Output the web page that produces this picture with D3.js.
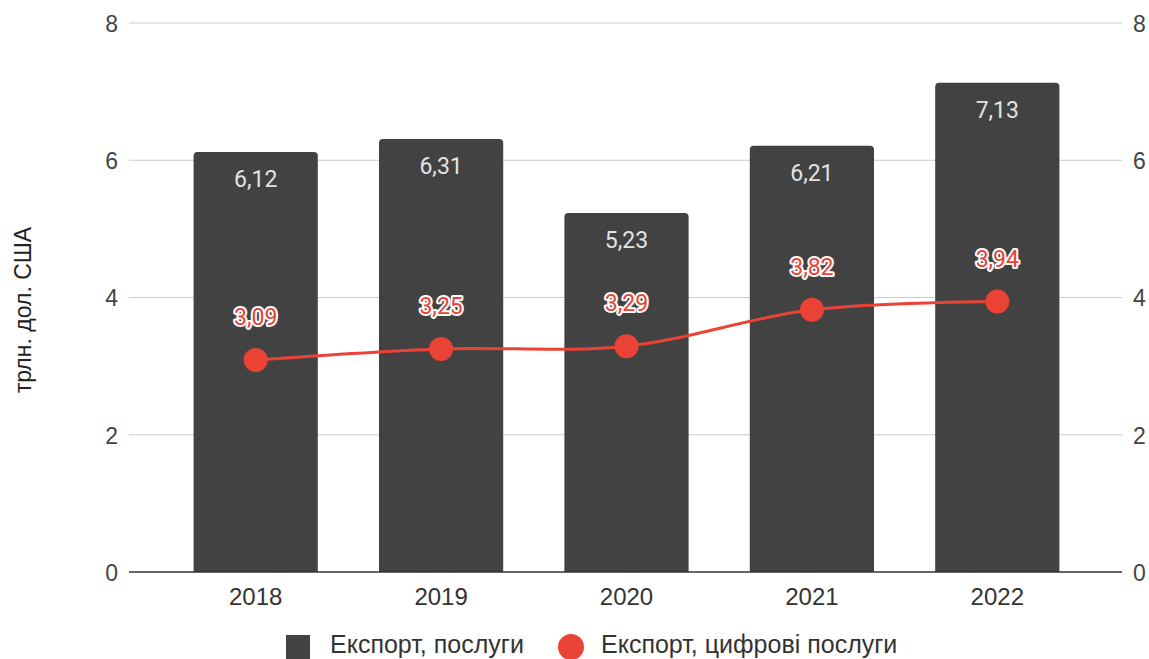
<!DOCTYPE html>
<html><head><meta charset="utf-8">
<script src="https://cdn.jsdelivr.net/npm/d3@7"></script>
<style>body{margin:0;background:#fff}svg{display:block}</style>
</head><body>
<svg id="c" width="1149" height="659"></svg>
<script>
const years = ["2018","2019","2020","2021","2022"];
const servicesExport = [6.12, 6.31, 5.23, 6.21, 7.13];
const digitalExport = [3.09, 3.25, 3.29, 3.82, 3.94];
const yTicks = [0, 2, 4, 6, 8];
const seriesNames = ["Експорт, послуги", "Експорт, цифрові послуги"];
const yTitle = "трлн. дол. США";

const fmt = v => v.toFixed(2).replace(".", ",");
const svg = d3.select("#c");
const x = d3.scaleBand().domain(years).range([163, 1090]).paddingInner(0.33).paddingOuter(0.165);
const y = d3.scaleLinear().domain([0, 8]).range([572, 23]);
const gridL = 129, gridR = 1122;
const AX = "'Liberation Sans', Arial, sans-serif";
const RB = "Roboto, 'Liberation Sans', Arial, sans-serif";
const RED = "#ea4335";

// gridlines
svg.append("g").selectAll("line").data(yTicks.filter(t => t > 0)).join("line")
  .attr("x1", gridL).attr("x2", gridR).attr("y1", d => y(d)).attr("y2", d => y(d))
  .attr("stroke", "#cccccc").attr("stroke-width", 1);

// axis labels
const gl = svg.append("g").attr("transform", `translate(118,0)`)
  .call(d3.axisLeft(y).tickValues(yTicks).tickSize(0).tickPadding(0));
gl.select(".domain").remove();
gl.selectAll("text").attr("font-family", AX).attr("font-size", 23).attr("fill", "#444").attr("dy", "0.36em");
const gr = svg.append("g").attr("transform", `translate(1133,0)`)
  .call(d3.axisRight(y).tickValues(yTicks).tickSize(0).tickPadding(0));
gr.select(".domain").remove();
gr.selectAll("text").attr("font-family", AX).attr("font-size", 23).attr("fill", "#444").attr("dy", "0.36em");

// bars with rounded tops
const r = 4;
svg.append("g").selectAll("path").data(years).join("path")
  .attr("fill", "#424242")
  .attr("d", (d, i) => {
    const x0 = x(d), x1 = x(d) + x.bandwidth(), yt = y(servicesExport[i]), yb = y(0);
    return `M${x0},${yb}V${yt + r}Q${x0},${yt} ${x0 + r},${yt}H${x1 - r}Q${x1},${yt} ${x1},${yt + r}V${yb}Z`;
  });

// baseline
svg.append("line").attr("x1", gridL).attr("x2", gridR).attr("y1", y(0)).attr("y2", y(0))
  .attr("stroke", "#333").attr("stroke-width", 1.5);

// bar labels
svg.append("g").selectAll("text").data(years).join("text")
  .attr("x", d => x(d) + x.bandwidth() / 2)
  .attr("y", (d, i) => y(servicesExport[i]) + 35)
  .attr("text-anchor", "middle").attr("font-family", RB).attr("font-size", 23)
  .attr("fill", "#e3e3e3").text((d, i) => fmt(servicesExport[i]));

// line
const cx = d => x(d) + x.bandwidth() / 2;
const line = d3.line().x((d, i) => cx(years[i])).y(d => y(d)).curve(d3.curveCatmullRom.alpha(0.5));
svg.append("path").datum(digitalExport).attr("d", line)
  .attr("fill", "none").attr("stroke", RED).attr("stroke-width", 3);
svg.append("g").selectAll("circle").data(digitalExport).join("circle")
  .attr("cx", (d, i) => cx(years[i])).attr("cy", d => y(d)).attr("r", 12).attr("fill", RED);

// point labels with halo
const pl = svg.append("g");
pl.selectAll("text.h").data(digitalExport).join("text").attr("class", "h")
  .attr("x", (d, i) => cx(years[i])).attr("y", d => y(d) - 35)
  .attr("text-anchor", "middle").attr("font-family", RB).attr("font-size", 23)
  .attr("fill", "none").attr("stroke", "#fff").attr("stroke-width", 4).attr("stroke-linejoin", "round")
  .text(d => fmt(d));
pl.selectAll("text.t").data(digitalExport).join("text").attr("class", "t")
  .attr("x", (d, i) => cx(years[i])).attr("y", d => y(d) - 35)
  .attr("text-anchor", "middle").attr("font-family", RB).attr("font-size", 23)
  .attr("fill", RED).text(d => fmt(d));

// x axis labels
const gx = svg.append("g").attr("transform", `translate(0,${y(0) + 33})`)
  .call(d3.axisBottom(x).tickSize(0).tickPadding(0));
gx.select(".domain").remove();
gx.selectAll("text").attr("font-family", AX).attr("font-size", 24).attr("fill", "#333").attr("dy", 0);

// y title
svg.append("text").attr("transform", "translate(31,310) rotate(-90)")
  .attr("text-anchor", "middle").attr("font-family", AX).attr("font-size", 23).attr("fill", "#222")
  .text(yTitle);

// legend
const lg = svg.append("g").attr("font-family", AX).attr("font-size", 25).attr("fill", "#333");
lg.append("rect").attr("x", 286).attr("y", 635).attr("width", 24).attr("height", 24).attr("fill", "#424242");
lg.append("text").attr("x", 330).attr("y", 653).text(seriesNames[0]);
lg.append("circle").attr("cx", 571).attr("cy", 647).attr("r", 13).attr("fill", RED);
lg.append("text").attr("x", 601).attr("y", 653).text(seriesNames[1]);
</script>
</body></html>
